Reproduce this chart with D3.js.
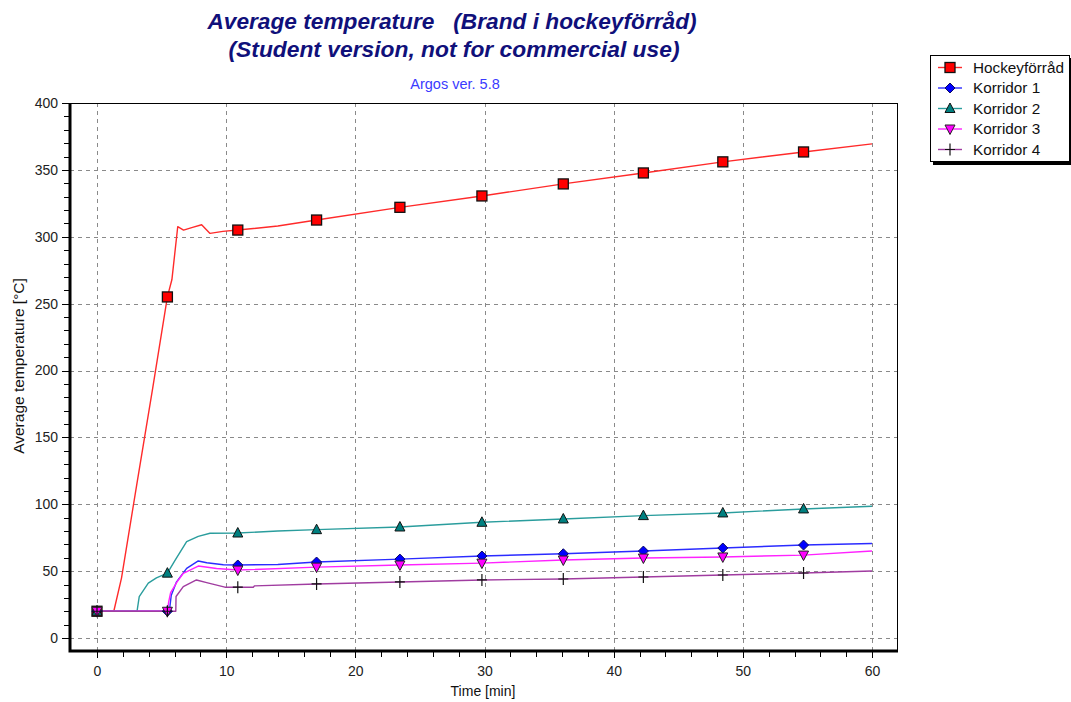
<!DOCTYPE html>
<html>
<head>
<meta charset="utf-8">
<script src="https://cdn.jsdelivr.net/npm/d3@7"></script>
<style>
  html, body { margin: 0; padding: 0; background: #ffffff; }
  svg { display: block; font-family: "Liberation Sans", Arial, sans-serif; }
</style>
</head>
<body>
<svg id="chart" width="1071" height="702"></svg>
<script>
// Average temperature per room, time in minutes
const seriesNames = ["Hockeyförråd", "Korridor 1", "Korridor 2", "Korridor 3", "Korridor 4"];

const hockeyT = [0, 1.3, 1.9, 3.1, 4.3, 5.45, 5.8, 6.25, 6.7, 7.4, 8.1, 8.75, 9.75, 10.9, 14, 17.0, 23.45, 29.8, 36.1, 42.3, 48.45, 54.7, 60];
const hockeyV = [20, 20, 45, 116, 186, 255, 268, 307.5, 305, 307, 309, 302.5, 304, 305, 308, 312.5, 322, 330.5, 339.5, 347.7, 356, 363.4, 369.4];

const korr1T = [0, 5.45, 5.6, 5.75, 6.16, 6.94, 7.84, 8.5, 9.78, 10.9, 14, 17.0, 23.45, 29.8, 36.1, 42.3, 48.45, 54.7, 60];
const korr1V = [20, 20, 20, 32, 42, 52, 57.6, 56.3, 54.8, 54.6, 55, 56.8, 59, 61.3, 63, 65, 67.3, 69.5, 70.6];

const korr2T = [0, 3.1, 3.27, 3.97, 4.6, 5.45, 6.04, 6.94, 7.84, 8.75, 10.9, 14, 17.0, 23.45, 29.8, 36.1, 42.3, 48.45, 54.7, 60];
const korr2V = [20, 20, 31, 41, 45, 48.5, 58, 72, 76, 78.3, 78.5, 80, 81, 83, 86.5, 89, 91.5, 93.5, 96.5, 98.5];

const korr3T = [0, 5.45, 5.55, 5.7, 6.2, 6.68, 7.84, 9.26, 10.9, 17.0, 23.45, 29.8, 36.1, 42.3, 48.45, 54.7, 60];
const korr3V = [20, 20, 27, 34, 42, 48.4, 53.8, 52, 50.8, 53, 54.6, 56, 58.3, 59.8, 60.6, 62, 65];

const korr4T = [0, 5.45, 6.1, 6.12, 6.68, 7.7, 8.49, 9.9, 10.9, 12.1, 12.2, 17.0, 23.45, 29.8, 36.1, 42.3, 48.45, 54.7, 60];
const korr4V = [20, 20, 20, 31, 38.4, 43.4, 41.4, 38, 38, 38, 39, 40.4, 41.9, 43.4, 44.1, 45.6, 47.1, 48.6, 50.1];

// Samples that carry a symbol
const markerTimes = [0, 5.45, 10.9, 17.0, 23.45, 29.8, 36.1, 42.3, 48.45, 54.7];

const xTicks = [0, 10, 20, 30, 40, 50, 60];
const yTicks = [0, 50, 100, 150, 200, 250, 300, 350, 400];

const series = [
  { name: seriesNames[0], t: hockeyT, v: hockeyV, line: "#ff2a2a", fill: "#ff0000", symbol: "square" },
  { name: seriesNames[1], t: korr1T, v: korr1V, line: "#2b2bff", fill: "#0000ff", symbol: "diamond" },
  { name: seriesNames[2], t: korr2T, v: korr2V, line: "#2a9d9d", fill: "#008080", symbol: "triangle" },
  { name: seriesNames[3], t: korr3T, v: korr3V, line: "#ff22ff", fill: "#ff00ff", symbol: "triangleDown" },
  { name: seriesNames[4], t: korr4T, v: korr4V, line: "#a03ca0", fill: "#000000", symbol: "plus" }
];

const svg = d3.select("#chart");

// Plot frame
const frame = { left: 70, right: 897, top: 103, bottom: 651 };
const x = d3.scaleLinear().domain([0, 60]).range([97, 872]);
const y = d3.scaleLinear().domain([0, 400]).range([638, 103]);

// Titles
svg.append("text").attr("x", 452).attr("y", 29).attr("text-anchor", "middle")
  .attr("font-size", 22.7).attr("font-weight", "bold").attr("font-style", "italic")
  .attr("fill", "#10107a").style("white-space", "pre")
  .text("Average temperature   (Brand i hockeyförråd)");
svg.append("text").attr("x", 454).attr("y", 57).attr("text-anchor", "middle")
  .attr("font-size", 22.8).attr("font-weight", "bold").attr("font-style", "italic")
  .attr("fill", "#10107a")
  .text("(Student version, not for commercial use)");
svg.append("text").attr("x", 455).attr("y", 89).attr("text-anchor", "middle")
  .attr("font-size", 14.5).attr("fill", "#3a3aff")
  .text("Argos ver. 5.8");

// Grid
const grid = svg.append("g").attr("stroke", "#8a8a8a").attr("stroke-width", 1)
  .attr("stroke-dasharray", "4,4").attr("shape-rendering", "crispEdges");
grid.selectAll("line.v").data(xTicks).join("line")
  .attr("x1", d => Math.round(x(d)) + 0.5).attr("x2", d => Math.round(x(d)) + 0.5)
  .attr("y1", frame.top).attr("y2", frame.bottom);
grid.selectAll("line.h").data(yTicks.filter(d => d < 400)).join("line")
  .attr("x1", frame.left).attr("x2", frame.right)
  .attr("y1", d => Math.round(y(d)) + 0.5).attr("y2", d => Math.round(y(d)) + 0.5);

// Thin top/right border
svg.append("path")
  .attr("d", `M${frame.left},${frame.top + 0.5}H${frame.right + 0.5}V${frame.bottom}`)
  .attr("fill", "none").attr("stroke", "#000").attr("stroke-width", 1)
  .attr("shape-rendering", "crispEdges");

// Axes
const yAxisMinor = d3.axisLeft(y).tickValues(d3.range(0, 401, 10)).tickSize(5).tickFormat("");
const yAxis = d3.axisLeft(y).tickValues(yTicks).tickSize(7).tickPadding(4);
const xAxisMinor = d3.axisBottom(x).tickValues(d3.range(0, 61, 2)).tickSize(5).tickFormat("");
const xAxis = d3.axisBottom(x).tickValues(xTicks).tickSize(6).tickPadding(8);

function styleAxis(g) {
  g.select(".domain").remove();
  g.selectAll(".tick line").attr("stroke", "#000").attr("shape-rendering", "crispEdges");
  g.selectAll(".tick text").attr("fill", "#222").attr("font-size", 14)
    .attr("font-family", "'Liberation Sans', Arial, sans-serif");
}
svg.append("g").attr("transform", `translate(${frame.left - 1},0)`).call(yAxisMinor).call(styleAxis);
svg.append("g").attr("transform", `translate(${frame.left - 1},0)`).call(yAxis).call(styleAxis);
svg.append("g").attr("transform", `translate(0,${frame.bottom + 1})`).call(xAxisMinor).call(styleAxis);
svg.append("g").attr("transform", `translate(0,${frame.bottom + 1})`).call(xAxis).call(styleAxis);

// Thick left/bottom border
svg.append("path")
  .attr("d", `M${frame.left},${frame.top}V${frame.bottom}H${frame.right + 1}`)
  .attr("fill", "none").attr("stroke", "#000").attr("stroke-width", 3);

// Axis titles
svg.append("text").attr("x", 483).attr("y", 696).attr("text-anchor", "middle")
  .attr("font-size", 14).attr("fill", "#111").text("Time [min]");
svg.append("text").attr("transform", "translate(24,366) rotate(-90)").attr("text-anchor", "middle")
  .attr("font-size", 15.5).attr("fill", "#111").text("Average temperature [°C]");

// Symbols
function drawSymbol(g, s, cx, cy) {
  const k = g.append("g").attr("transform", `translate(${cx},${cy})`);
  if (s.symbol === "square") {
    k.append("rect").attr("x", -5).attr("y", -5).attr("width", 10).attr("height", 10)
      .attr("fill", s.fill).attr("stroke", "#111").attr("stroke-width", 1.3);
  } else if (s.symbol === "diamond") {
    k.append("path").attr("d", "M0,-5L5,0L0,5L-5,0Z")
      .attr("fill", s.fill).attr("stroke", "#0a0a60").attr("stroke-width", 1);
  } else if (s.symbol === "triangle") {
    k.append("path").attr("d", "M0,-5.5L5,4L-5,4Z")
      .attr("fill", s.fill).attr("stroke", "#111").attr("stroke-width", 1);
  } else if (s.symbol === "triangleDown") {
    k.append("path").attr("d", "M0,5.5L5,-4L-5,-4Z")
      .attr("fill", s.fill).attr("stroke", "#222").attr("stroke-width", 1);
  } else if (s.symbol === "plus") {
    k.append("path").attr("d", "M-5,0H5M0,-6V6")
      .attr("stroke", "#111").attr("stroke-width", 1.2);
  }
}

// Lines
const line = d3.line().x(d => x(d[0])).y(d => y(d[1]));
const plot = svg.append("g");
series.forEach(s => {
  const pts = s.t.map((t, i) => [t, s.v[i]]);
  plot.append("path").datum(pts).attr("d", line)
    .attr("fill", "none").attr("stroke", s.line).attr("stroke-width", 1.4)
    .attr("stroke-linejoin", "round");
});
series.forEach(s => {
  s.t.forEach((t, i) => {
    if (markerTimes.includes(t)) drawSymbol(plot, s, x(t), y(s.v[i]));
  });
});

// Legend
const lg = svg.append("g");
lg.append("rect").attr("x", 933).attr("y", 58).attr("width", 139).attr("height", 107).attr("fill", "#000");
lg.append("rect").attr("x", 930.5).attr("y", 55.5).attr("width", 139).attr("height", 106)
  .attr("fill", "#fff").attr("stroke", "#000").attr("stroke-width", 1);
series.forEach((s, i) => {
  const cy = 67.5 + i * 20.5;
  lg.append("line").attr("x1", 938).attr("x2", 962).attr("y1", cy).attr("y2", cy)
    .attr("stroke", s.line).attr("stroke-width", 1.4);
  drawSymbol(lg, s, 950, cy);
  lg.append("text").attr("x", 973).attr("y", cy + 5).attr("font-size", 15.3)
    .attr("fill", "#111").text(s.name);
});
</script>
</body>
</html>
